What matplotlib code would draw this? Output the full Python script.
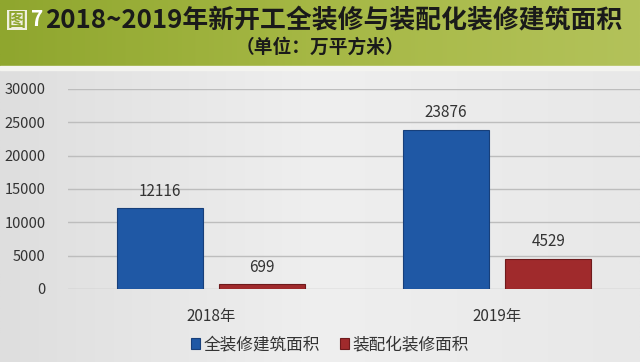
import matplotlib
matplotlib.use("Agg")
import matplotlib.pyplot as plt
import numpy as np
from matplotlib.patches import Rectangle
from matplotlib.colors import LinearSegmentedColormap

plt.rcParams['font.family'] = ['Noto Sans CJK SC', 'DejaVu Sans']

categories = ["2018年", "2019年"]
series_names = ["全装修建筑面积", "装配化装修面积"]
full_decor = [12116, 23876]
prefab_decor = [699, 4529]
yticks = [0, 5000, 10000, 15000, 20000, 25000, 30000]

fig = plt.figure(figsize=(6.4, 3.62), dpi=100)

# background gradient (light gray)
bg = fig.add_axes([0, 0, 1, 1], zorder=-10)
grad = np.linspace(0, 1, 256).reshape(1, -1)
grad = np.vstack([grad, grad])
cm_bg = LinearSegmentedColormap.from_list("bg", ["#dedede", "#efefef", "#e8e8e8"])
bg.imshow(grad, aspect='auto', cmap=cm_bg, extent=[0, 1, 0, 1])
# title band green
cm_g = LinearSegmentedColormap.from_list("g", ["#8fa62e", "#a6b845", "#b3c25a"])
bg.imshow(grad, aspect='auto', cmap=cm_g, extent=[0, 1, 1 - 66/362, 1])
bg.add_patch(Rectangle((0, 1 - 70/362), 1, 4/362, color="#f4f4f0"))
bg.set_xlim(0, 1)
bg.set_ylim(0, 1)
bg.axis('off')

fig.text(0.012, 1 - 20/362, "图", fontsize=13, fontweight='bold', color="#8fa62e",
         va='center', ha='left',
         bbox=dict(boxstyle='square,pad=0.05', fc='#f0f0e0', ec='none'))
fig.text(0.049, 1 - 20/362, "7", fontsize=15, fontweight='bold', color="white",
         va='center', ha='left')
fig.text(0.071, 1 - 20/362, "2018~2019年新开工全装修与装配化装修建筑面积", fontsize=18.6,
         fontweight='bold', color="#1a1a1a", va='center', ha='left')
fig.text(0.5, 1 - 47/362, "（单位：万平方米）", fontsize=13.5, fontweight='bold',
         color="#1a1a1a", va='center', ha='center')

ax = fig.add_axes([68/640, 73/362, 1 - 68/640, 200/362])
ax.set_facecolor('none')
x = np.arange(len(categories))
w = 0.30
off = 0.179
b1 = ax.bar(x - off, full_decor, w, color="#1f58a5", edgecolor="#173f7a", linewidth=0.8,
            label=series_names[0], zorder=3)
b2 = ax.bar(x + off, prefab_decor, w, color="#a02a2c", edgecolor="#6e1a1c", linewidth=0.8,
            label=series_names[1], zorder=3)
for xi, v in zip(x - off, full_decor):
    ax.text(xi, v + 1300, str(v), ha='center', va='bottom', fontsize=11, color="#333333")
for xi, v in zip(x + off, prefab_decor):
    ax.text(xi, v + 1300, str(v), ha='center', va='bottom', fontsize=11, color="#333333")

ax.set_xlim(-0.5, 1.5)
ax.set_ylim(0, 30000)
ax.set_yticks(yticks)
ax.set_yticklabels([str(t) for t in yticks], fontsize=10.5, color="#333333")
ax.set_xticks(x)
ax.set_xticklabels(categories, fontsize=11, color="#333333")
ax.tick_params(axis='both', length=0)
ax.tick_params(axis='x', pad=14)
ax.tick_params(axis='y', pad=16)
ax.grid(axis='y', color="#bdbdbd", linewidth=1.0, zorder=0)
for s in ax.spines.values():
    s.set_visible(False)

leg = fig.legend(handles=[b1, b2], labels=series_names, loc='center',
                 bbox_to_anchor=(330/640, 1 - 345/362), ncol=2, frameon=False,
                 fontsize=12, handlelength=0.55, handleheight=0.6, handletextpad=0.2,
                 columnspacing=1.2)
for t in leg.get_texts():
    t.set_color("#333333")

fig.savefig("out.png", dpi=100)
